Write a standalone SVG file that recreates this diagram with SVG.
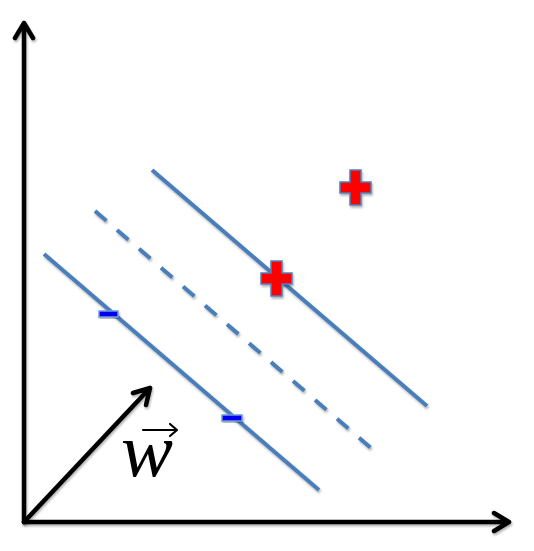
<svg xmlns="http://www.w3.org/2000/svg" width="534" height="551" viewBox="0 0 534 551">
<defs>
<filter id="sh" x="-20%" y="-20%" width="140%" height="140%">
<feDropShadow dx="1" dy="2" stdDeviation="1.2" flood-color="#000" flood-opacity="0.3"/>
</filter>
</defs>
<style>
.axis{stroke:#000;stroke-width:4.5;fill:none;stroke-linecap:round;stroke-linejoin:round}
.sep{stroke:#4a7ebb;stroke-width:4;fill:none}
.dash{stroke-dasharray:15 14}
.plus{fill:#ff0000;stroke:#4f81bd;stroke-width:1.5}
.minus{fill:#0000ee;stroke:#6f9bd8;stroke-width:1.5}
.lbl{font-family:"Liberation Serif","DejaVu Serif",serif;font-style:italic;font-size:76px;fill:#000}
</style>
<rect width="534" height="551" fill="#fff"/>
<g id="axes" filter="url(#sh)">
<path class="axis" d="M24,522 L24,23 M15,38 L24,23 L33,38"/>
<path class="axis" d="M24,522 L509,522 M494,513 L509,522 L494,531"/>
</g>
<g id="connectors" filter="url(#sh)">
<line class="sep" x1="152" y1="170" x2="427" y2="406"/>
<line class="sep dash" x1="95" y1="211" x2="371" y2="448"/>
<line class="sep" x1="44" y1="254" x2="319" y2="490"/>
<path class="axis" d="M24,522 L150,388 M133,393 L150,388 L146,405"/>
</g>
<g id="plus1" filter="url(#sh)">
<path class="plus" d="M350,170 h11 v12 h10 v11 h-10 v12 h-11 v-12 h-10 v-11 h10 z"/>
</g>
<g id="plus2" filter="url(#sh)">
<path class="plus" d="M271,261 h11 v12 h10 v11 h-10 v12 h-11 v-12 h-10 v-11 h10 z"/>
</g>
<g id="minus1" filter="url(#sh)">
<rect class="minus" x="99" y="311" width="19" height="6"/>
</g>
<g id="minus2" filter="url(#sh)">
<rect class="minus" x="222" y="415" width="20" height="6"/>
</g>
<g id="w-label">
<text class="lbl" x="121" y="476" textLength="52" lengthAdjust="spacingAndGlyphs">w</text>
<path d="M143,430 L176,430 M170,424 L177,430 L170,436" stroke="#000" stroke-width="2.2" fill="none" stroke-linecap="round" stroke-linejoin="round"/>
</g>
</svg>
